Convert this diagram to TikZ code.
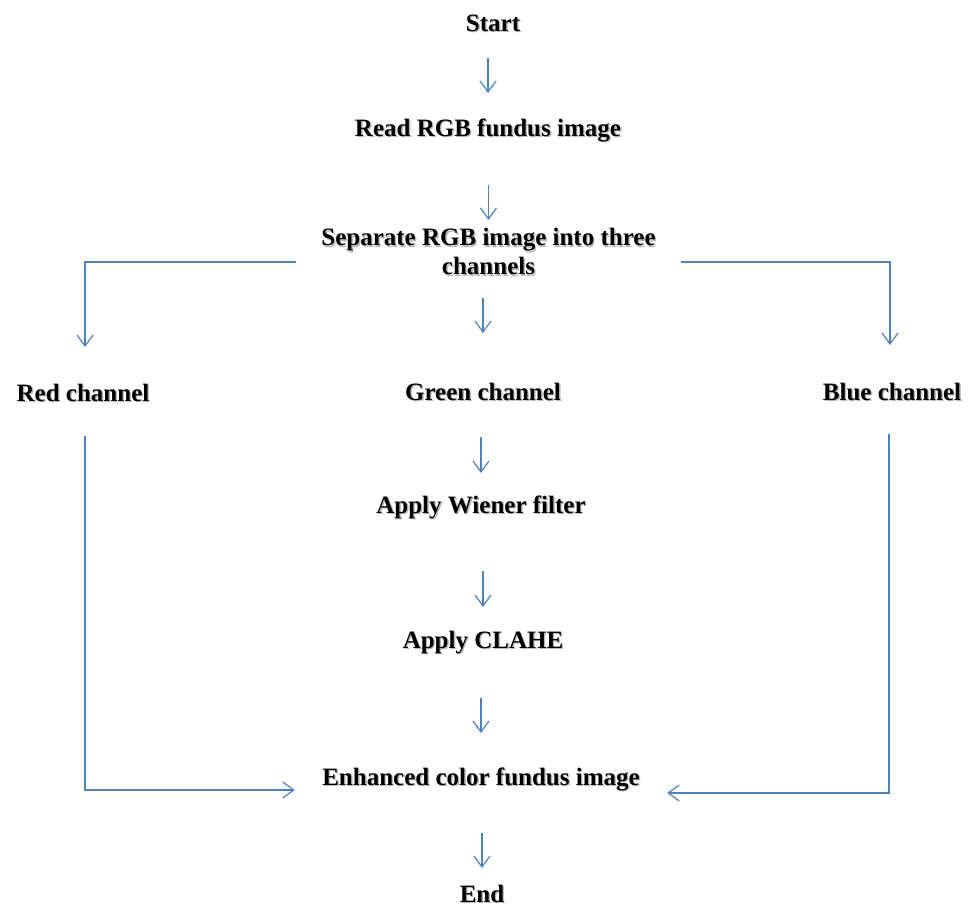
\documentclass[tikz,border=0pt]{standalone}
\usepackage{fontspec}
\setmainfont{Liberation Serif}
\usetikzlibrary{arrows.meta,calc}
\definecolor{flowblue}{RGB}{79,129,189}
\newcommand\shd[1]{\leavevmode\rlap{\kern1.4pt\raisebox{-1.6pt}{\textcolor{black!28}{#1}}}#1}
\begin{document}
\begin{tikzpicture}[x=1pt,y=-1pt,
  lbl/.style={inner sep=0pt, outer sep=0pt, font=\fontsize{25}{29}\selectfont\bfseries, text height=17pt, text depth=5pt},
  lbl2/.style={inner sep=0pt, outer sep=0pt, font=\fontsize{25}{29}\selectfont\bfseries, align=center},
  arr/.style={draw=flowblue, line width=1.2pt, -{Straight Barb[length=11pt,width=16pt]}}]
\useasboundingbox (0,0) rectangle (977,911);
\fill[white] (0,0) rectangle (977,911);

\node[lbl] (start) at (493,25) {\shd{Start}};
\node[lbl] (read) at (488,130) {\shd{Read RGB fundus image}};
\node[lbl2] (sep) at (488.5,252.5) {\shd{Separate RGB image into three}\\\shd{channels}};
\node[lbl] (red) at (83,395) {\shd{Red channel}};
\node[lbl] (green) at (483,394) {\shd{Green channel}};
\node[lbl] (blue) at (892,394) {\shd{Blue channel}};
\node[lbl] (wiener) at (481,507) {\shd{Apply Wiener filter}};
\node[lbl] (clahe) at (483,642) {\shd{Apply CLAHE}};
\node[lbl] (enh) at (481,779) {\shd{Enhanced color fundus image}};
\node[lbl] (end) at (482,896) {\shd{End}};

\coordinate (lbend) at (85,262);
\coordinate (rbend) at (890,262);
\coordinate (lbot) at (85,790);
\coordinate (rbot) at (889,793);

\draw[arr, shorten <=22pt, shorten >=26pt] (start.south -| read.north) -- (read.north);
\draw[arr, shorten <=44pt, shorten >=8.5pt] (read.south -| sep.north) -- (sep.north);
\draw[arr, shorten <=21.5pt, shorten >=50pt] (sep.south -| green.north) -- (green.north);
\draw[arr, shorten <=32pt, shorten >=23pt] (green.south -| wiener.north) -- (wiener.north);
\draw[arr, shorten <=53pt, shorten >=24pt] (wiener.south -| clahe.north) -- (clahe.north);
\draw[arr, shorten <=45pt, shorten >=35pt] (clahe.south -| enh.north) -- (enh.north);
\draw[arr, shorten <=43pt, shorten >=17pt] (enh.south -| end.north) -- (end.north);

\draw[arr, shorten <=25pt, shorten >=37pt] (sep.west |- lbend) -- (lbend) -- (red.north -| lbend);
\draw[arr, shorten <=25pt, shorten >=38pt] (sep.east |- rbend) -- (rbend) -- (blue.north -| rbend);
\draw[arr, shorten <=30pt, shorten >=27.5pt] (red.south -| lbot) -- (lbot) -- (enh.west |- lbot);
\draw[arr, shorten <=29pt, shorten >=27.5pt] (blue.south -| rbot) -- (rbot) -- (enh.east |- rbot);
\end{tikzpicture}
\end{document}
